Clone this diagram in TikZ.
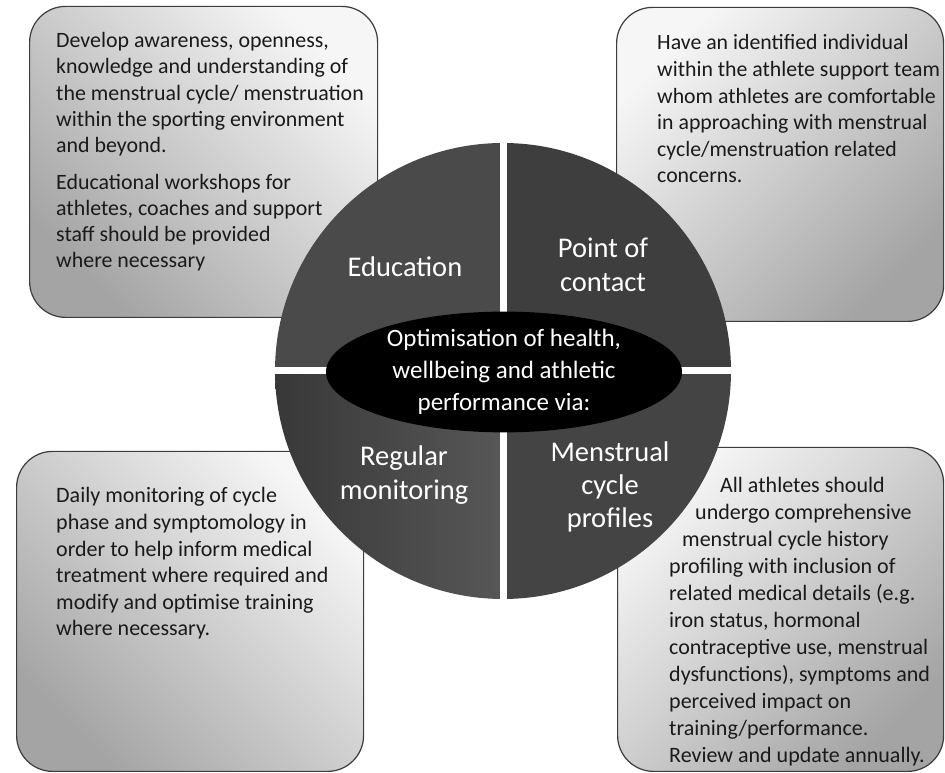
\documentclass[tikz,border=0pt]{standalone}
\usepackage{fontspec}
\setmainfont{Carlito}
\usetikzlibrary{shapes.geometric}
\definecolor{boxline}{HTML}{3C3C3C}
\definecolor{txt}{HTML}{1A1A1A}
\definecolor{boxlight}{HTML}{F6F6F6}
\definecolor{boxdark}{HTML}{A4A4A4}
\definecolor{qa}{HTML}{4A4A4A}
\definecolor{qb}{HTML}{3E3E3E}
\definecolor{qc}{HTML}{383838}
\definecolor{qd}{HTML}{575757}
\definecolor{qe}{HTML}{444444}
\begin{document}
\begin{tikzpicture}[x=1pt,y=1pt,
  infobox/.style={draw=boxline, line width=1.2pt, rounded corners=36pt, inner sep=0pt, anchor=south west},
  infotext/.style={anchor=base west, align=left, inner sep=0pt, text=txt, font=\fontsize{22}{26.6}\selectfont},
  quadlabel/.style={anchor=base, align=center, inner sep=0pt, text=white, font=\fontsize{28.5}{34}\selectfont},
  gapline/.style={white, line width=7pt}
]
\useasboundingbox (0,0) rectangle (945,773);
\fill[white] (0,0) rectangle (945,773);

% boxes
\node[infobox, minimum width=348pt, minimum height=311pt, top color=boxlight, bottom color=boxdark, shading angle=-45] (tlbox) at (29,455) {};
\node[infobox, minimum width=327pt, minimum height=314pt, top color=boxlight, bottom color=boxdark, shading angle=45] (trbox) at (616,451) {};
\node[infobox, minimum width=347pt, minimum height=320pt, top color=boxlight, bottom color=boxdark, shading angle=-45] (blbox) at (16,1) {};
\node[infobox, minimum width=326pt, minimum height=324pt, top color=boxlight, bottom color=boxdark, shading angle=45] (brbox) at (617,1) {};

% box texts (base anchor = last line's baseline)
\node[infotext, font=\fontsize{21.9}{26.3}\selectfont] (tltext) at (56,505) {Develop awareness, openness,\\knowledge and understanding of\\the menstrual cycle/ menstruation\\within the sporting environment\\and beyond.\\[10pt]Educational workshops for\\athletes, coaches and support\\staff should be provided\\where necessary};
\node[infotext, font=\fontsize{21.8}{26.6}\selectfont] (trtext) at (657,590) {Have an identified individual\\within the athlete support team\\whom athletes are comfortable\\in approaching with menstrual\\cycle/menstruation related\\concerns.};
\node[infotext] (bltext) at (56,137) {Daily monitoring of cycle\\phase and symptomology in\\order to help inform medical\\treatment where required and\\modify and optimise training\\where necessary.};
\node[infotext, font=\fontsize{22}{27}\selectfont] (brtext) at (669,10) {\hspace*{51pt}All athletes should\\\hspace*{26pt}undergo comprehensive\\\hspace*{13pt}menstrual cycle history\\profiling with inclusion of\\related medical details (e.g.\\iron status, hormonal\\contraceptive use, menstrual\\dysfunctions), symptoms and\\perceived impact on\\training/performance.\\Review and update annually.};

% circle quadrants
\coordinate (c) at (503,402);
\fill[qa] (c) -- ++(0,228) arc[start angle=90, end angle=180, radius=228] -- cycle;
\fill[qb] (c) -- ++(228,0) arc[start angle=0, end angle=90, radius=228] -- cycle;
\shade[left color=qc, right color=qd] (c) -- ++(-228,0) arc[start angle=180, end angle=270, radius=228] -- cycle;
\fill[qe] (c) -- ++(0,-228) arc[start angle=270, end angle=360, radius=228] -- cycle;
\coordinate (ctop) at (503,630);
\coordinate (cbot) at (503,174);
\coordinate (cleft) at (275,402);
\coordinate (cright) at (731,402);
\draw[gapline] (ctop) -- (cbot);
\draw[gapline] (cleft) -- (cright);

% central ellipse
\node[ellipse, fill=black, minimum width=356pt, minimum height=116pt, inner sep=0pt, text=white, align=center, font=\fontsize{25}{32}\selectfont] (hub) at (504,401) {Optimisation of health,\\wellbeing and athletic\\performance via:};

% quadrant labels (base anchor = last line's baseline)
\node[quadlabel] (edu) at (405,496.3) {Education};
\node[quadlabel] (poc) at (603,481) {Point of\\contact};
\node[quadlabel] (reg) at (404,273) {Regular\\monitoring};
\node[quadlabel, font=\fontsize{28.5}{33}\selectfont] (mcp) at (610,245) {Menstrual\\cycle\\profiles};
\end{tikzpicture}
\end{document}
